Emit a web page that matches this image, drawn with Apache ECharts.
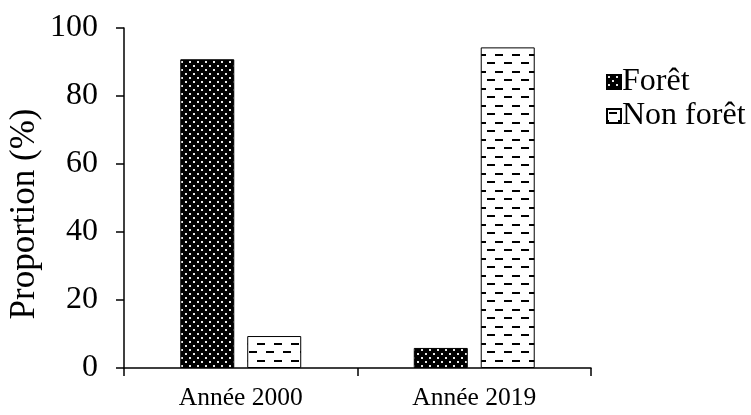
<!DOCTYPE html>
<html>
<head>
<meta charset="utf-8">
<style>
  html, body { margin: 0; padding: 0; background: #fff; }
  #chart { width: 751px; height: 415px; }
</style>
<script src="https://cdn.jsdelivr.net/npm/echarts@6/dist/echarts.min.js"></script>
</head>
<body>
<div id="chart"></div>
<script>
// Land cover proportions by year
const categories = ['Année 2000', 'Année 2019'];
const foretValues = [90.8, 5.9];
const nonForetValues = [9.4, 94.3];
const yTicks = [0, 20, 40, 60, 80, 100];

const FONT = '"Liberation Serif", "Times New Roman", serif';

// Black fill with a staggered grid of small white dots
function dotPattern() {
  const c = document.createElement('canvas');
  c.width = 8; c.height = 8;
  const g = c.getContext('2d');
  g.fillStyle = '#000';
  g.fillRect(0, 0, 8, 8);
  g.fillStyle = '#e8e8e8';
  g.fillRect(1, 1, 2, 2);
  g.fillRect(5, 5, 2, 2);
  return c;
}

// White fill with staggered short horizontal dashes
function dashPattern() {
  const c = document.createElement('canvas');
  c.width = 17; c.height = 17;
  const g = c.getContext('2d');
  g.fillStyle = '#fff';
  g.fillRect(0, 0, 17, 17);
  g.fillStyle = '#000';
  g.fillRect(2, 3, 8, 2);
  g.fillRect(11, 11, 6, 2);
  g.fillRect(0, 11, 2, 2);
  return c;
}

const chart = echarts.init(document.getElementById('chart'), null, { renderer: 'canvas' });

chart.setOption({
  animation: false,
  backgroundColor: '#fff',
  textStyle: { fontFamily: FONT, color: '#000' },
  grid: { left: 124, right: 160, top: 28, bottom: 47, containLabel: false, outerBoundsMode: 'none' },
  legend: {
    orient: 'vertical',
    left: 601,
    top: 61,
    itemWidth: 14,
    itemHeight: 14,
    itemGap: 2,
    icon: 'rect',
    textStyle: { fontFamily: FONT, fontSize: 32, lineHeight: 32, color: '#000', padding: [0, 0, 0, -4] },
    data: ['Forêt', 'Non forêt']
  },
  xAxis: {
    type: 'category',
    data: categories,
    axisLine: { lineStyle: { color: '#000', width: 1.5 } },
    axisTick: { show: true, length: 8, lineStyle: { color: '#000', width: 1.5 } },
    axisLabel: { fontFamily: FONT, fontSize: 25.5, color: '#000', margin: 17 }
  },
  yAxis: {
    type: 'value',
    min: 0,
    max: 100,
    interval: 20,
    name: 'Proportion (%)',
    nameLocation: 'middle',
    nameGap: 82,
    nameMoveOverlap: false,
    nameTextStyle: { fontFamily: FONT, fontSize: 35, color: '#000', padding: [0, 32, 0, 0] },
    splitLine: { show: false },
    axisLine: { show: true, lineStyle: { color: '#000', width: 1.5 } },
    axisTick: { show: true, length: 8, lineStyle: { color: '#000', width: 1.5 } },
    axisLabel: {
      fontFamily: FONT, fontSize: 32, color: '#000', margin: 26,
      formatter: v => (yTicks.indexOf(v) >= 0 ? String(v) : '')
    }
  },
  series: [
    {
      name: 'Forêt',
      type: 'bar',
      data: foretValues,
      barWidth: 54,
      barGap: '24%',
      itemStyle: { color: { image: dotPattern(), repeat: 'repeat' }, borderColor: '#000', borderWidth: 1 }
    },
    {
      name: 'Non forêt',
      type: 'bar',
      data: nonForetValues,
      barWidth: 54,
      barGap: '24%',
      itemStyle: { color: { image: dashPattern(), repeat: 'repeat' }, borderColor: '#000', borderWidth: 1 }
    }
  ]
});
</script>
</body>
</html>
